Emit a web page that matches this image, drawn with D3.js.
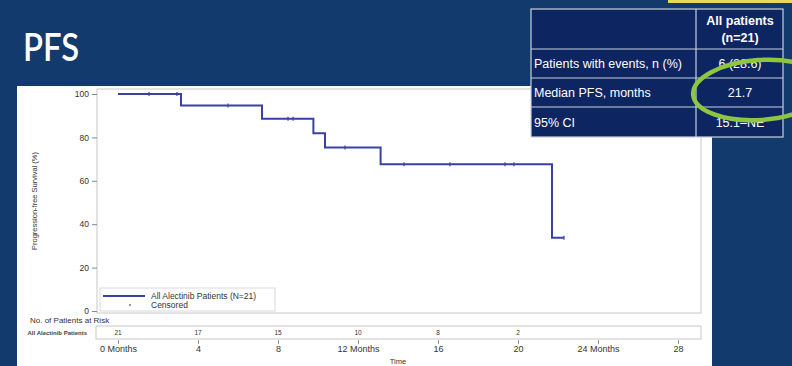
<!DOCTYPE html>
<html><head><meta charset="utf-8">
<script src="https://cdn.jsdelivr.net/npm/d3@7"></script>
<style>html,body{margin:0;padding:0;background:#133a6c;overflow:hidden}svg{display:block}</style>
</head><body>
<svg id="c" width="792" height="366"></svg>
<script>
// ---- data ----
const eventTimes = [0, 3.15, 7.2, 9.77, 10.35, 13.13, 21.7];
const survival   = [100, 94.7, 88.6, 81.9, 75.3, 67.6, 33.8];
const lastTime = 22.3;
const censorTimes = [1.55, 2.95, 5.5, 8.5, 8.75, 11.35, 14.3, 16.6, 19.35, 19.8, 22.3];
const xTickValues = [0, 4, 8, 12, 16, 20, 24, 28];
const xTickLabels = ["0 Months", "4", "8", "12 Months", "16", "20", "24 Months", "28"];
const yTickValues = [0, 20, 40, 60, 80, 100];
const atRiskTimes = [0, 4, 8, 12, 16, 20];
const atRiskCounts = [21, 17, 15, 10, 8, 2];
const tableRowLabels = ["Patients with events, n (%)", "Median PFS, months", "95% CI"];
const tableRowValues = ["6 (28.6)", "21.7", "15.1\u2013NE"];

const svg = d3.select("#c");
const font = "Liberation Sans, Arial, sans-serif";
const lineColor = "#3b40a6";

// slide background
svg.append("rect").attr("width",792).attr("height",366).attr("fill","#133a6c");
// yellow bar at top right
svg.append("rect").attr("x",668).attr("y",-2).attr("width",130).attr("height",5).attr("fill","#e2dc5a");

// title
svg.append("text").attr("x",23).attr("y",61).text("PFS")
  .attr("font-family","Lato, Open Sans, sans-serif").attr("font-size",38).attr("font-weight",600)
  .attr("fill","#ffffff").attr("textLength",56).attr("lengthAdjust","spacingAndGlyphs");

// white panel
svg.append("rect").attr("x",17).attr("y",86).attr("width",695).attr("height",290).attr("fill","#ffffff");

// scales
const x = d3.scaleLinear().domain([0,28]).range([118,678]);
const y = d3.scaleLinear().domain([0,100]).range([311,94]);
const frame = {l:97, t:89, r:701, b:313};

// plot frame
svg.append("rect").attr("x",frame.l).attr("y",frame.t).attr("width",frame.r-frame.l).attr("height",frame.b-frame.t)
  .attr("fill","none").attr("stroke","#c8c8c8").attr("stroke-width",1);

// y axis
const yAxis = d3.axisLeft(y).tickValues(yTickValues).tickSize(5).tickPadding(3);
const gy = svg.append("g").attr("transform",`translate(${frame.l},0)`).call(yAxis);
gy.select(".domain").remove();
gy.selectAll(".tick line").attr("stroke","#888");
gy.selectAll("text").attr("font-family",font).attr("font-size",8.5).attr("fill","#333");

svg.append("text").attr("transform","translate(37,201) rotate(-90)").attr("text-anchor","middle")
  .attr("font-family",font).attr("font-size",7.5).attr("fill","#333").text("Progression-free Survival (%)");

// KM step curve
const pts = eventTimes.map((t,i)=>({t, s:survival[i]}));
pts.push({t:lastTime, s:survival[survival.length-1]});
const line = d3.line().x(d=>x(d.t)).y(d=>y(d.s)).curve(d3.curveStepAfter);
svg.append("path").datum(pts).attr("d",line).attr("fill","none").attr("stroke",lineColor).attr("stroke-width",2);

// censor marks
function survAt(t){ let s=100; eventTimes.forEach((et,i)=>{ if(et<=t) s=survival[i];}); return s; }
svg.append("g").selectAll("line").data(censorTimes).join("line")
  .attr("x1",d=>x(d)).attr("x2",d=>x(d)).attr("y1",d=>y(survAt(d))-2).attr("y2",d=>y(survAt(d))+2)
  .attr("stroke",lineColor).attr("stroke-width",1.2);

// legend
svg.append("rect").attr("x",100).attr("y",288).attr("width",175).attr("height",23).attr("fill","#fff")
  .attr("stroke","#d0d0d0").attr("stroke-width",0.8);
svg.append("line").attr("x1",103).attr("x2",145).attr("y1",296).attr("y2",296).attr("stroke",lineColor).attr("stroke-width",2.2);
svg.append("text").attr("x",151).attr("y",299).attr("font-family",font).attr("font-size",8.5).attr("fill","#333").text("All Alectinib Patients (N=21)");
svg.append("line").attr("x1",130).attr("x2",130).attr("y1",304).attr("y2",306).attr("stroke","#555").attr("stroke-width",1.2);
svg.append("text").attr("x",151).attr("y",308).attr("font-family",font).attr("font-size",8.5).attr("fill","#333").text("Censored");

// at risk
svg.append("text").attr("x",30).attr("y",323).attr("font-family",font).attr("font-size",8).attr("fill","#333").text("No. of Patients at Risk");
svg.append("rect").attr("x",frame.l-1).attr("y",326).attr("width",frame.r-frame.l+1).attr("height",13)
  .attr("fill","#fff").attr("stroke","#c8c8c8").attr("stroke-width",1);
svg.append("text").attr("x",87).attr("y",334.5).attr("text-anchor","end").attr("font-family",font).attr("font-size",6).attr("font-weight","bold").attr("fill","#444").text("All Alectinib Patients");
svg.append("g").selectAll("text").data(atRiskTimes).join("text")
  .attr("x",d=>x(d)).attr("y",335).attr("text-anchor","middle").attr("font-family",font).attr("font-size",6.5).attr("fill","#333")
  .text((d,i)=>atRiskCounts[i]);

// x axis
const xAxis = d3.axisBottom(x).tickValues(xTickValues).tickSize(4).tickPadding(2).tickFormat((d,i)=>xTickLabels[i]);
const gx = svg.append("g").attr("transform","translate(0,340)").call(xAxis);
gx.select(".domain").remove();
gx.selectAll(".tick line").attr("stroke","#999");
gx.selectAll("text").attr("font-family",font).attr("font-size",9).attr("fill","#333");
svg.append("text").attr("x",398).attr("y",364).attr("text-anchor","middle").attr("font-family",font).attr("font-size",7.5).attr("fill","#333").text("Time");

// table
const tx0=531, tx1=696, tx2=783;
const rowsY=[9,49,78,107,137];
const tg = svg.append("g");
tg.append("rect").attr("x",tx0).attr("y",rowsY[0]).attr("width",tx2-tx0).attr("height",rowsY[4]-rowsY[0])
  .attr("fill","#0d2561").attr("stroke","#c9d0e0").attr("stroke-width",1.2);
rowsY.slice(1,4).forEach(yy=>tg.append("line").attr("x1",tx0).attr("x2",tx2).attr("y1",yy).attr("y2",yy).attr("stroke","#c9d0e0").attr("stroke-width",1.2));
tg.append("line").attr("x1",tx1).attr("x2",tx1).attr("y1",rowsY[0]).attr("y2",rowsY[4]).attr("stroke","#c9d0e0").attr("stroke-width",1.2);
tg.append("text").attr("x",740).attr("y",25).attr("text-anchor","middle").attr("font-family",font).attr("font-size",12.5).attr("font-weight","bold").attr("fill","#fff").text("All patients");
tg.append("text").attr("x",740).attr("y",42).attr("text-anchor","middle").attr("font-family",font).attr("font-size",12.5).attr("font-weight","bold").attr("fill","#fff").text("(n=21)");
tableRowLabels.forEach((lab,i)=>{
  const cy=(rowsY[i+1]+rowsY[i+2])/2+4.5;
  tg.append("text").attr("x",534).attr("y",cy).attr("font-family",font).attr("font-size",12.5).attr("fill","#fff").text(lab);
  tg.append("text").attr("x",740).attr("y",cy).attr("text-anchor","middle").attr("font-family",font).attr("font-size",12.5).attr("fill","#fff").text(tableRowValues[i]);
});
// green highlight ellipse
svg.append("ellipse").attr("cx",760).attr("cy",90).attr("rx",67).attr("ry",30)
  .attr("transform","rotate(-4,760,90)")
  .attr("fill","none").attr("stroke","#8dc63f").attr("stroke-width",4.5);
</script>
</body></html>
